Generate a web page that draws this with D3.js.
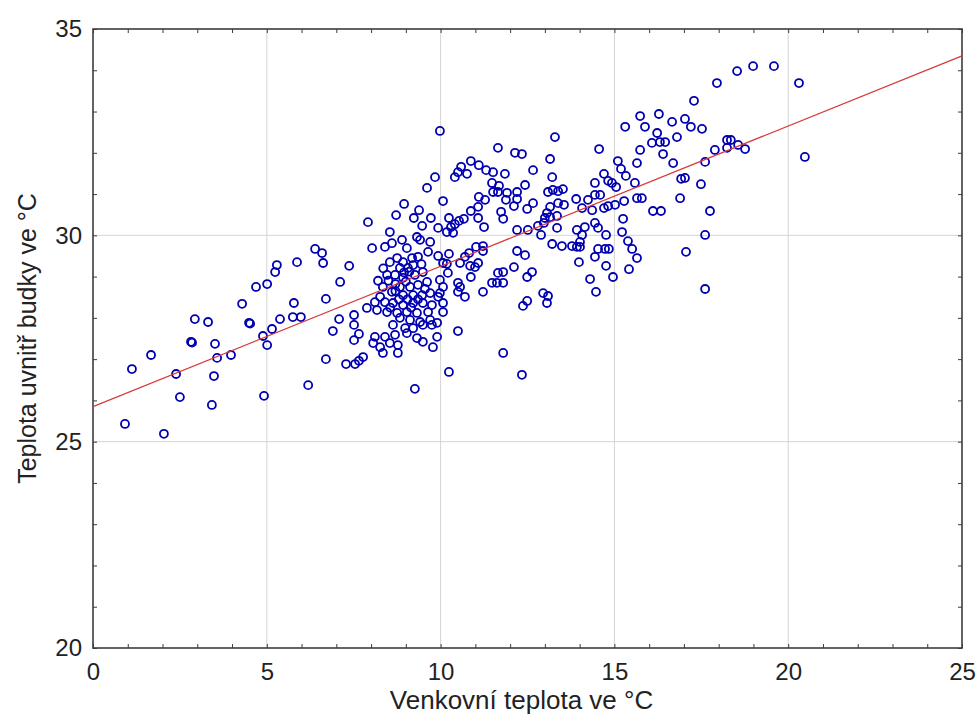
<!DOCTYPE html>
<html>
<head>
<meta charset="utf-8">
<script src="https://cdn.jsdelivr.net/npm/d3@7"></script>
<style>
  body { margin: 0; background: #fff; }
  svg { display: block; font-family: "Liberation Sans", Arial, sans-serif; }
</style>
</head>
<body>
<svg id="chart" width="980" height="728"></svg>
<script>
// Outdoor temperature (°C) vs. temperature inside the nest box (°C)
const readings = [
  [2.04,25.19],[0.92,25.43],[3.42,25.89],[2.50,26.08],[4.92,26.11],[6.19,26.37],[3.48,26.59],[2.39,26.64],
  [1.12,26.76],[3.57,27.03],[1.67,27.10],[3.97,27.10],[3.51,27.37],[2.82,27.42],[2.85,27.40],[5.01,27.34],
  [4.89,27.56],[5.15,27.73],[4.49,27.88],[4.52,27.86],[3.31,27.90],[2.93,27.97],[5.38,27.97],[5.75,28.02],
  [5.98,28.02],[5.78,28.36],[4.29,28.34],[4.69,28.75],[5.01,28.82],[5.24,29.11],[5.29,29.28],[5.87,29.35],
  [6.39,29.67],[6.59,29.57],[6.62,29.33],[7.37,29.26],[7.11,28.87],[6.70,28.46],[7.08,27.97],[6.90,27.68],
  [6.70,27.00],[7.28,26.88],[7.54,26.88],[7.65,26.96],[7.77,27.05],[7.51,28.07],[7.51,27.83],[7.51,27.46],
  [7.65,27.61],
  [8.03,29.69],[8.40,29.72],[8.60,29.81],[8.89,29.89],[9.32,29.96],[9.41,29.89],[9.70,29.84],[9.64,29.60],
  [9.03,29.69],[8.54,29.35],[8.75,29.45],[8.92,29.35],[9.18,29.45],[9.35,29.48],[8.83,29.21],[9.06,29.21],
  [9.21,29.28],[8.46,29.04],[8.69,29.04],[8.92,28.97],[9.26,29.04],[9.49,29.11],[9.61,28.87],[9.35,28.80],
  [9.12,28.75],[8.83,28.75],[8.34,28.75],[8.60,28.63],[8.92,28.55],[9.21,28.55],[9.47,28.55],[9.70,28.60],
  [8.26,28.51],[8.11,28.38],[8.40,28.38],[8.63,28.36],[8.92,28.31],[9.21,28.36],[9.49,28.36],[9.75,28.31],
  [7.88,28.24],[8.17,28.19],[8.46,28.14],[8.75,28.12],[9.03,28.14],[9.32,28.12],[9.64,28.14],[8.83,28.00],
  [9.12,27.95],[9.41,27.90],[9.70,27.95],[8.63,27.83],[8.98,27.75],[9.21,27.75],[9.49,27.83],[9.75,27.83],
  [8.11,27.54],[8.40,27.54],[8.69,27.59],[9.03,27.63],[9.32,27.51],[9.49,27.42],[8.06,27.39],[8.26,27.29],
  [8.54,27.39],[8.77,27.34],[8.34,27.15],[8.77,27.15],[9.78,27.29],[9.26,26.28],
  [8.50,28.90],[8.70,28.82],[9.00,28.88],[9.10,29.12],[8.80,28.45],[9.05,28.45],[9.35,28.45],[8.55,28.25],
  [9.15,28.25],[8.95,29.10],[9.45,29.30],[8.35,29.20],[8.20,28.90],[9.55,28.70],[8.70,28.65],
  [9.61,31.15],[9.84,31.41],[9.38,30.61],[9.72,30.42],[9.23,30.42],[9.47,30.23],[7.91,30.32],[8.95,30.76],
  [8.72,30.49],[8.54,30.08],
  [9.98,32.53],[11.65,32.12],[12.14,32.00],[12.34,31.97],[10.87,31.80],[11.10,31.70],[10.59,31.66],[10.50,31.53],
  [10.41,31.41],[10.76,31.49],[11.31,31.58],[11.51,31.53],[11.85,31.49],[12.66,31.58],[11.48,31.27],[11.68,31.20],
  [12.43,31.22],[11.51,31.05],[11.65,31.05],[11.91,31.03],[12.20,31.05],[12.20,30.88],[11.88,30.86],[11.10,30.93],
  [11.28,30.86],[10.07,30.83],[12.66,30.78],[12.11,30.71],[12.49,30.64],[10.87,30.59],[11.74,30.57],[11.08,30.69],
  [11.08,30.42],[11.80,30.40],[10.24,30.42],[10.67,30.40],[10.53,30.35],[10.41,30.27],[10.30,30.20],[11.25,30.20],
  [9.93,30.18],[10.36,30.06],[10.18,30.08],[12.20,30.13],[12.51,30.13],[12.80,30.23],[11.02,29.72],[11.22,29.74],
  [11.22,29.62],[10.82,29.57],[12.20,29.62],[12.43,29.52],[10.07,29.33],[10.18,29.31],[10.56,29.33],[10.85,29.26],
  [10.99,29.23],[11.08,29.33],[12.11,29.23],[10.87,28.99],[10.21,29.09],[12.63,29.11],[12.49,28.99],[11.65,29.09],
  [11.80,29.11],[11.48,28.85],[11.62,28.85],[11.80,28.85],[10.50,28.85],[10.56,28.75],[11.22,28.63],[10.70,28.51],
  [12.49,28.41],[12.37,28.29],[10.07,28.14],[10.50,27.68],[9.90,27.88],[9.90,27.54],[11.80,27.15],[10.24,26.69],
  [12.34,26.62],[9.93,29.50],[10.24,29.55],[9.98,28.92],[10.07,28.75],[10.07,28.36],[9.98,28.60],[10.70,29.48],
  [10.50,28.63],[9.93,28.51],
  [13.29,32.38],[15.31,32.63],[15.88,32.63],[16.23,32.48],[16.08,32.24],[16.31,32.26],[16.46,32.26],[15.74,32.07],
  [16.40,31.97],[14.56,32.09],[13.15,31.85],[15.10,31.80],[15.19,31.61],[15.65,31.75],[15.33,31.44],[15.59,31.27],
  [13.21,31.41],[14.70,31.49],[14.44,31.27],[14.82,31.32],[14.93,31.27],[15.05,31.17],[13.09,31.05],[13.23,31.10],
  [13.38,31.07],[13.52,31.12],[14.44,30.98],[14.59,30.98],[13.90,30.88],[14.24,30.86],[13.38,30.78],[13.55,30.74],
  [13.15,30.69],[14.07,30.66],[14.36,30.61],[14.70,30.66],[14.82,30.71],[15.02,30.74],[15.28,30.83],[15.65,30.90],
  [15.79,30.90],[16.11,30.59],[16.34,30.59],[13.06,30.54],[13.00,30.42],[13.15,30.44],[13.35,30.47],[12.97,30.30],
  [13.35,30.18],[12.89,30.01],[15.25,30.40],[13.92,30.13],[14.15,30.20],[14.44,30.30],[14.53,30.18],[14.76,30.01],
  [15.22,30.08],[14.07,30.01],[14.01,29.84],[13.21,29.79],[13.49,29.74],[13.78,29.74],[13.92,29.72],[14.01,29.72],
  [14.53,29.67],[14.73,29.67],[14.84,29.67],[14.44,29.48],[15.39,29.86],[15.51,29.67],[15.65,29.45],[13.98,29.35],
  [14.76,29.26],[15.42,29.18],[14.30,28.94],[14.96,28.99],[14.47,28.63],[12.95,28.60],[13.09,28.53],[13.06,28.36],
  [15.74,32.89],[16.28,32.94],
  [16.66,32.75],[16.80,32.38],[16.69,31.75],[16.89,30.90],[17.29,33.26],[17.03,32.82],[17.20,32.63],[17.52,32.58],
  [18.24,32.31],[18.35,32.31],[18.56,32.19],[18.76,32.09],[17.89,32.07],[18.24,32.12],[20.48,31.90],[17.61,31.78],
  [16.92,31.37],[17.03,31.39],[17.49,31.24],[17.75,30.59],[17.61,30.01],[17.06,29.60],[17.61,28.70],[17.95,33.69],
  [18.53,33.98],[18.99,34.10],[19.59,34.10],[20.31,33.69]
];

const xLabeled = [0, 5, 10, 15, 20, 25];
const yLabeled = [20, 25, 30, 35];
const xLabel = "Venkovní teplota ve °C";
const yLabel = "Teplota uvnitř budky ve °C";

// Least-squares line: inside = intercept + slope * outdoor
const fitIntercept = 25.85;
const fitSlope = 0.34;

const svg = d3.select("#chart");
const plotLeft = 93, plotRight = 962, plotTop = 29, plotBottom = 648;

const x = d3.scaleLinear().domain([0, 25]).range([plotLeft, plotRight]);
const y = d3.scaleLinear().domain([20, 35]).range([plotBottom, plotTop]);

const frameColor = "#3c3c3c";

// grid lines at the labelled values
svg.append("g").selectAll("line")
  .data(xLabeled.slice(1, -1)).join("line")
  .attr("x1", d => x(d)).attr("x2", d => x(d))
  .attr("y1", plotTop).attr("y2", plotBottom)
  .attr("stroke", "#d4d4d4").attr("stroke-width", 1);
svg.append("g").selectAll("line")
  .data(yLabeled.slice(1, -1)).join("line")
  .attr("y1", d => y(d)).attr("y2", d => y(d))
  .attr("x1", plotLeft).attr("x2", plotRight)
  .attr("stroke", "#d4d4d4").attr("stroke-width", 1);

// axes: inward ticks at every degree, labels at every fifth
const fmtX = d => xLabeled.includes(d) ? d : "";
const fmtY = d => yLabeled.includes(d) ? d : "";

function styleAxis(g) {
  g.select(".domain").remove();
  g.selectAll(".tick line").attr("stroke", frameColor);
  g.selectAll(".tick text").attr("fill", "#222").attr("font-size", 24);
}

svg.append("g").attr("transform", `translate(0,${plotBottom})`)
  .call(d3.axisBottom(x).tickValues(d3.range(0, 26)).tickSize(-4).tickPadding(15).tickFormat(fmtX))
  .call(styleAxis);
svg.append("g").attr("transform", `translate(0,${plotTop})`)
  .call(d3.axisTop(x).tickValues(d3.range(0, 26)).tickSize(-4).tickFormat(""))
  .call(styleAxis);
svg.append("g").attr("transform", `translate(${plotLeft},0)`)
  .call(d3.axisLeft(y).tickValues(d3.range(20, 36)).tickSize(-4).tickPadding(11).tickFormat(fmtY))
  .call(styleAxis);
svg.append("g").attr("transform", `translate(${plotRight},0)`)
  .call(d3.axisRight(y).tickValues(d3.range(20, 36)).tickSize(-4).tickFormat(""))
  .call(styleAxis);

// frame
svg.append("rect")
  .attr("x", plotLeft).attr("y", plotTop)
  .attr("width", plotRight - plotLeft).attr("height", plotBottom - plotTop)
  .attr("fill", "none").attr("stroke", frameColor).attr("stroke-width", 1.6);

// observations
svg.append("g").selectAll("circle")
  .data(readings).join("circle")
  .attr("cx", d => x(d[0])).attr("cy", d => y(d[1]))
  .attr("r", 4)
  .attr("fill", "none")
  .attr("stroke", "#0000b0")
  .attr("stroke-width", 1.8);

// regression line
const fitLine = d3.line().x(d => x(d)).y(d => y(fitIntercept + fitSlope * d));
svg.append("path")
  .datum(x.domain())
  .attr("d", fitLine)
  .attr("fill", "none")
  .attr("stroke", "#d83a3a")
  .attr("stroke-width", 1.2);

// axis titles
svg.append("text")
  .attr("x", (plotLeft + plotRight) / 2 - 6).attr("y", 709)
  .attr("text-anchor", "middle")
  .attr("font-size", 26).attr("fill", "#222")
  .text(xLabel);
svg.append("text")
  .attr("transform", `translate(36,${(plotTop + plotBottom) / 2}) rotate(-90)`)
  .attr("text-anchor", "middle")
  .attr("font-size", 25).attr("fill", "#222")
  .text(yLabel);
</script>
</body>
</html>
